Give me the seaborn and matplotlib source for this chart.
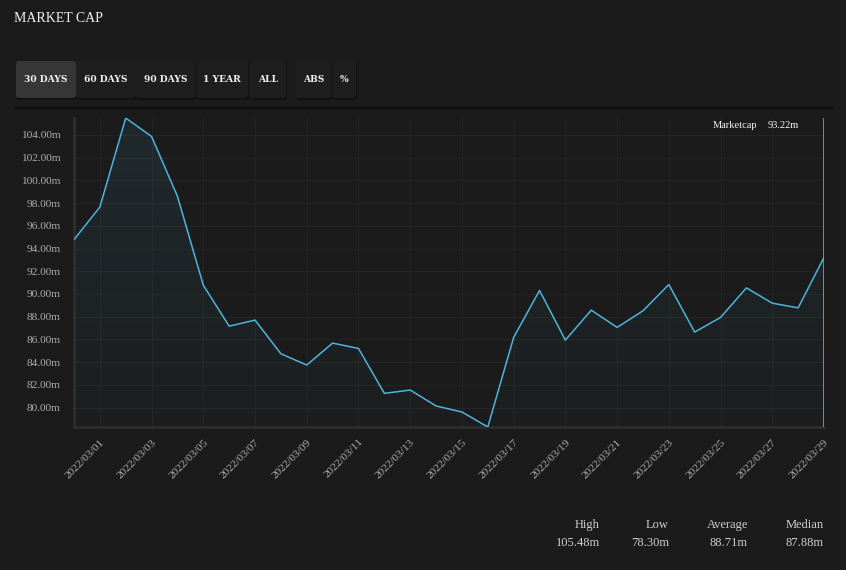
import numpy as np
import pandas as pd
import matplotlib
matplotlib.use("Agg")
import matplotlib.pyplot as plt
import matplotlib.dates as mdates
from matplotlib.patches import FancyBboxPatch
from matplotlib.colors import LinearSegmentedColormap
import seaborn as sns

# data
dates = pd.date_range("2022-02-28", "2022-03-29", freq="D")
market_cap = [94.78, 97.65, 105.48, 103.85, 98.59, 90.77, 87.17, 87.70, 84.74, 83.75,
              85.68, 85.21, 81.26, 81.55, 80.15, 79.62, 78.30, 86.18, 90.31, 85.94,
              88.58, 87.06, 88.52, 90.83, 86.65, 87.94, 90.54, 89.19, 88.78, 93.22]
y_ticks = [80, 82, 84, 86, 88, 90, 92, 94, 96, 98, 100, 102, 104]
buttons = ["30 DAYS", "60 DAYS", "90 DAYS", "1 YEAR", "ALL", "ABS", "%"]
stat_names = ["High", "Low", "Average", "Median"]
stat_values = ["105.48m", "78.30m", "88.71m", "87.88m"]

BG = "#1b1b1b"
LINE = "#4db4dc"

sns.set_theme(style="dark", rc={"figure.facecolor": BG, "axes.facecolor": BG,
                                "savefig.facecolor": BG})
plt.rcParams["font.family"] = ["Liberation Serif", "DejaVu Serif"]

df = pd.DataFrame({"date": dates, "cap": market_cap})

fig = plt.figure(figsize=(8.46, 5.70), dpi=100)
W, H = 846, 570
ax = fig.add_axes([74 / W, 1 - 427 / H, 750 / W, (427 - 118) / H])

ylo, yhi = 78.30, 105.48
sns.lineplot(data=df, x="date", y="cap", ax=ax, color=LINE, linewidth=1.1, zorder=3)

# gradient fill under the line
xs = mdates.date2num(df["date"])
poly = ax.fill_between(df["date"], df["cap"], ylo, color="none", lw=0)
cmap = LinearSegmentedColormap.from_list("g", [(0.30, 0.70, 0.85, 0.02), (0.30, 0.70, 0.85, 0.10)])
grad = np.linspace(0, 1, 256).reshape(-1, 1)
im = ax.imshow(grad, cmap=cmap, aspect="auto", origin="lower",
               extent=[xs[0], xs[-1], ylo, yhi], zorder=2)
im.set_clip_path(poly.get_paths()[0], transform=ax.transData)

ax.set_xlim(dates[0], dates[-1])
ax.set_ylim(ylo, yhi)
ax.set_yticks(y_ticks)
ax.set_yticklabels([f"{v:.2f}m" for v in y_ticks])
ax.xaxis.set_major_locator(mdates.DayLocator(bymonthday=range(1, 30, 2)))
ax.xaxis.set_major_formatter(mdates.DateFormatter("%Y/%m/%d"))
ax.set_xlabel("")
ax.set_ylabel("")

ax.grid(True, color="#242424", linewidth=0.8)
for s in ["top", "right"]:
    ax.spines[s].set_visible(False)
for s in ["left", "bottom"]:
    ax.spines[s].set_color("#2f2f2f")
    ax.spines[s].set_linewidth(1.8)
ax.tick_params(axis="both", direction="inout", length=9, width=1.2, color="#333333",
               labelcolor="#adadad", labelsize=8.2, pad=3)
ax.tick_params(axis="y", pad=5)
for lab in ax.get_xticklabels():
    lab.set_rotation(45)
    lab.set_ha("right")
    lab.set_rotation_mode("anchor")

# crosshair at last point
ax.axvline(dates[-1], color="#9a9a9a", linewidth=1.2, zorder=4)

# overlay in pixel coordinates
ov = fig.add_axes([0, 0, 1, 1], facecolor="none")
ov.set_xlim(0, W)
ov.set_ylim(H, 0)
ov.axis("off")

ov.text(14, 18, "MARKET CAP", color="#f2f2f2", fontsize=10, va="center", ha="left")

btn_x = [(16, 76), (76, 136), (136, 195), (196, 248), (250, 286), (296, 331), (332, 356)]
for i, (name, (x0, x1)) in enumerate(zip(buttons, btn_x)):
    face = "#363636" if i == 0 else "#1e1e1e"
    ov.add_patch(FancyBboxPatch((x0 + 1, 63), x1 - x0, 37, boxstyle="round,pad=0,rounding_size=3",
                                fc="#121212", ec="none", zorder=1))
    ov.add_patch(FancyBboxPatch((x0, 61), x1 - x0, 37, boxstyle="round,pad=0,rounding_size=3",
                                fc=face, ec="none", zorder=2))
    ov.text((x0 + x1) / 2, 79.5, name, color="#f0f0f0", fontsize=6.6, fontweight="bold",
            family="DejaVu Serif", ha="center", va="center", zorder=3)

ov.plot([16, 832], [108, 108], color="#111111", linewidth=1.6)

ov.text(713, 126, "Marketcap", color="#f5f5f5", fontsize=7.5, ha="left", va="center")
ov.text(768, 126, f"{market_cap[-1]:.2f}m", color="#f5f5f5", fontsize=7.5, ha="left", va="center")

stat_right = [600, 669, 748, 824]
for name, val, xr in zip(stat_names, stat_values, stat_right):
    ov.text(xr, 525, name, color="#cfcfcf", fontsize=9, ha="right", va="center")
    ov.text(xr, 543, val, color="#cfcfcf", fontsize=9, ha="right", va="center")

fig.savefig("out.png", dpi=100, facecolor=BG)
